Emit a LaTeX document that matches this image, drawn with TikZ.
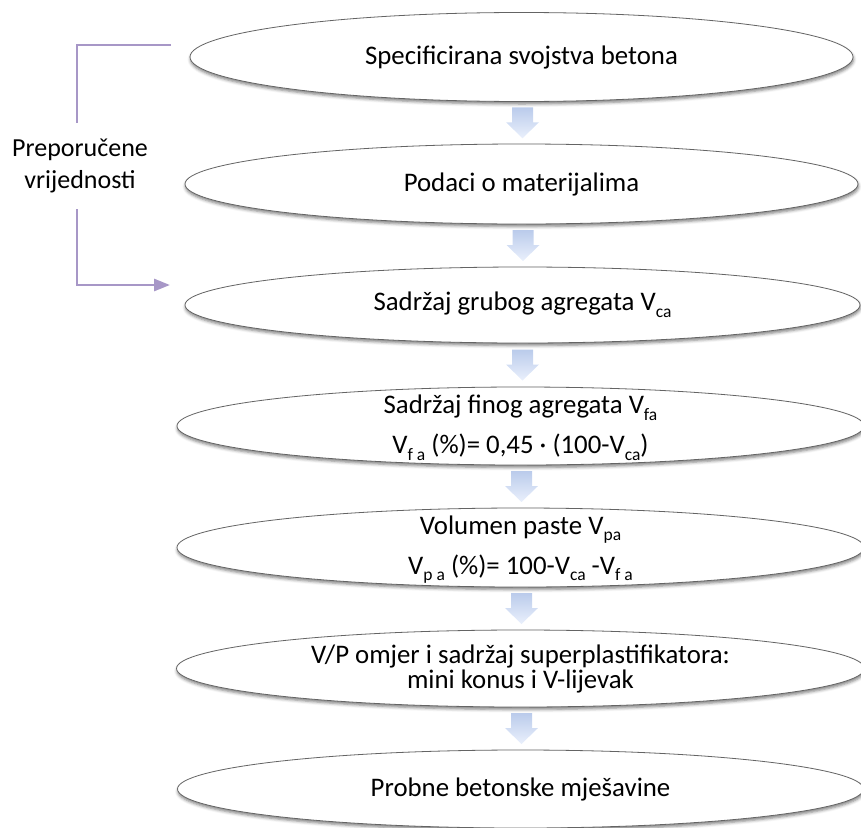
\documentclass[tikz,border=0pt]{standalone}
\usepackage{fontspec}
\setmainfont{Carlito}
\usetikzlibrary{shapes.geometric,shadows.blur,arrows.meta,calc}
\definecolor{purp}{RGB}{167,151,199}
\definecolor{arrtop}{RGB}{186,203,235}
\definecolor{arrbot}{RGB}{234,240,252}
\definecolor{edgegray}{RGB}{100,100,100}
\newcommand\vsub[1]{\raisebox{-6.5pt}{\fontsize{17.5}{17.5}\selectfont #1}}
\tikzset{
  stage/.style={ellipse, draw=edgegray, line width=0.8pt, fill=white, inner sep=0pt,
    blur shadow={shadow xshift=0.5pt, shadow yshift=-2.5pt, shadow blur radius=3pt, shadow opacity=50}},
  txt/.style={align=center, inner sep=0pt, font=\fontsize{26.8}{40}\selectfont},
  brk/.style={purp, line width=2.8pt},
  blockarr/.pic={\shade[top color=arrtop, bottom color=arrbot]
    (-10.5,-15.5) -- (10.5,-15.5) -- (10.5,-0.5) -- (16.5,-0.5) -- (0,15.5)
    -- (-16.5,-0.5) -- (-10.5,-0.5) -- cycle;}
}
\begin{document}
\begin{tikzpicture}[x=1pt,y=-1pt]
\useasboundingbox (0,0) rectangle (861,827);
% stages
\node[stage, minimum width=663pt, minimum height=89pt] (e1) at (521.5,57) {};
\node[stage, minimum width=673pt, minimum height=80pt] (e2) at (521.5,184) {};
\node[stage, minimum width=675pt, minimum height=76pt] (e3) at (522.5,305) {};
\node[stage, minimum width=687pt, minimum height=78pt] (e4) at (520.5,426) {};
\node[stage, minimum width=687pt, minimum height=79pt] (e5) at (520.5,547.5) {};
\node[stage, minimum width=688pt, minimum height=77pt] (e6) at (520.5,668.5) {};
\node[stage, minimum width=686pt, minimum height=78pt] (e7) at (520.5,789) {};
% texts
\node[txt] (t1) at (e1) {Specificirana svojstva betona};
\node[txt] (t2) at (e2) {Podaci o materijalima};
\node[txt] (t3) at (e3) {Sadržaj grubog agregata V\vsub{ca}};
\node[txt] (t4) at ($(e4)+(0,2)$) {Sadržaj finog agregata V\vsub{fa}\\V\vsub{f a} (\%)= 0,45 · (100-V\vsub{ca})};
\node[txt] (t5) at ($(e5)+(0,2)$) {Volumen paste V\vsub{pa}\\V\vsub{p a} (\%)= 100-V\vsub{ca} -V\vsub{f a}};
\node[txt, font=\fontsize{26.8}{25}\selectfont] (t6) at (e6) {V/P omjer i sadržaj superplastifikatora:\\mini konus i V-lijevak};
\node[txt] (t7) at (e7) {Probne betonske mješavine};
% block arrows
\foreach \a/\b in {e1/e2,e2/e3,e3/e4,e4/e5,e5/e6,e6/e7}{
  \path (\a.south) -- coordinate[midway] (m\a) (\b.north);
  \pic at ($(m\a)+(1,0)$) {blockarr};
}
% recommended values bracket
\node[txt, font=\fontsize{26}{32}\selectfont, minimum height=86pt] (lab) at (80,166) {Preporučene\\vrijednosti};
\coordinate (bt) at (171,45);
\coordinate (bb) at (170,285);
\draw[brk] (bt) -| ($(lab.north)+(-3,0)$);
\draw[brk, -{Triangle[length=16pt,width=12pt]}] ($(lab.south)+(-3,0)$) |- (bb);
\end{tikzpicture}
\end{document}
